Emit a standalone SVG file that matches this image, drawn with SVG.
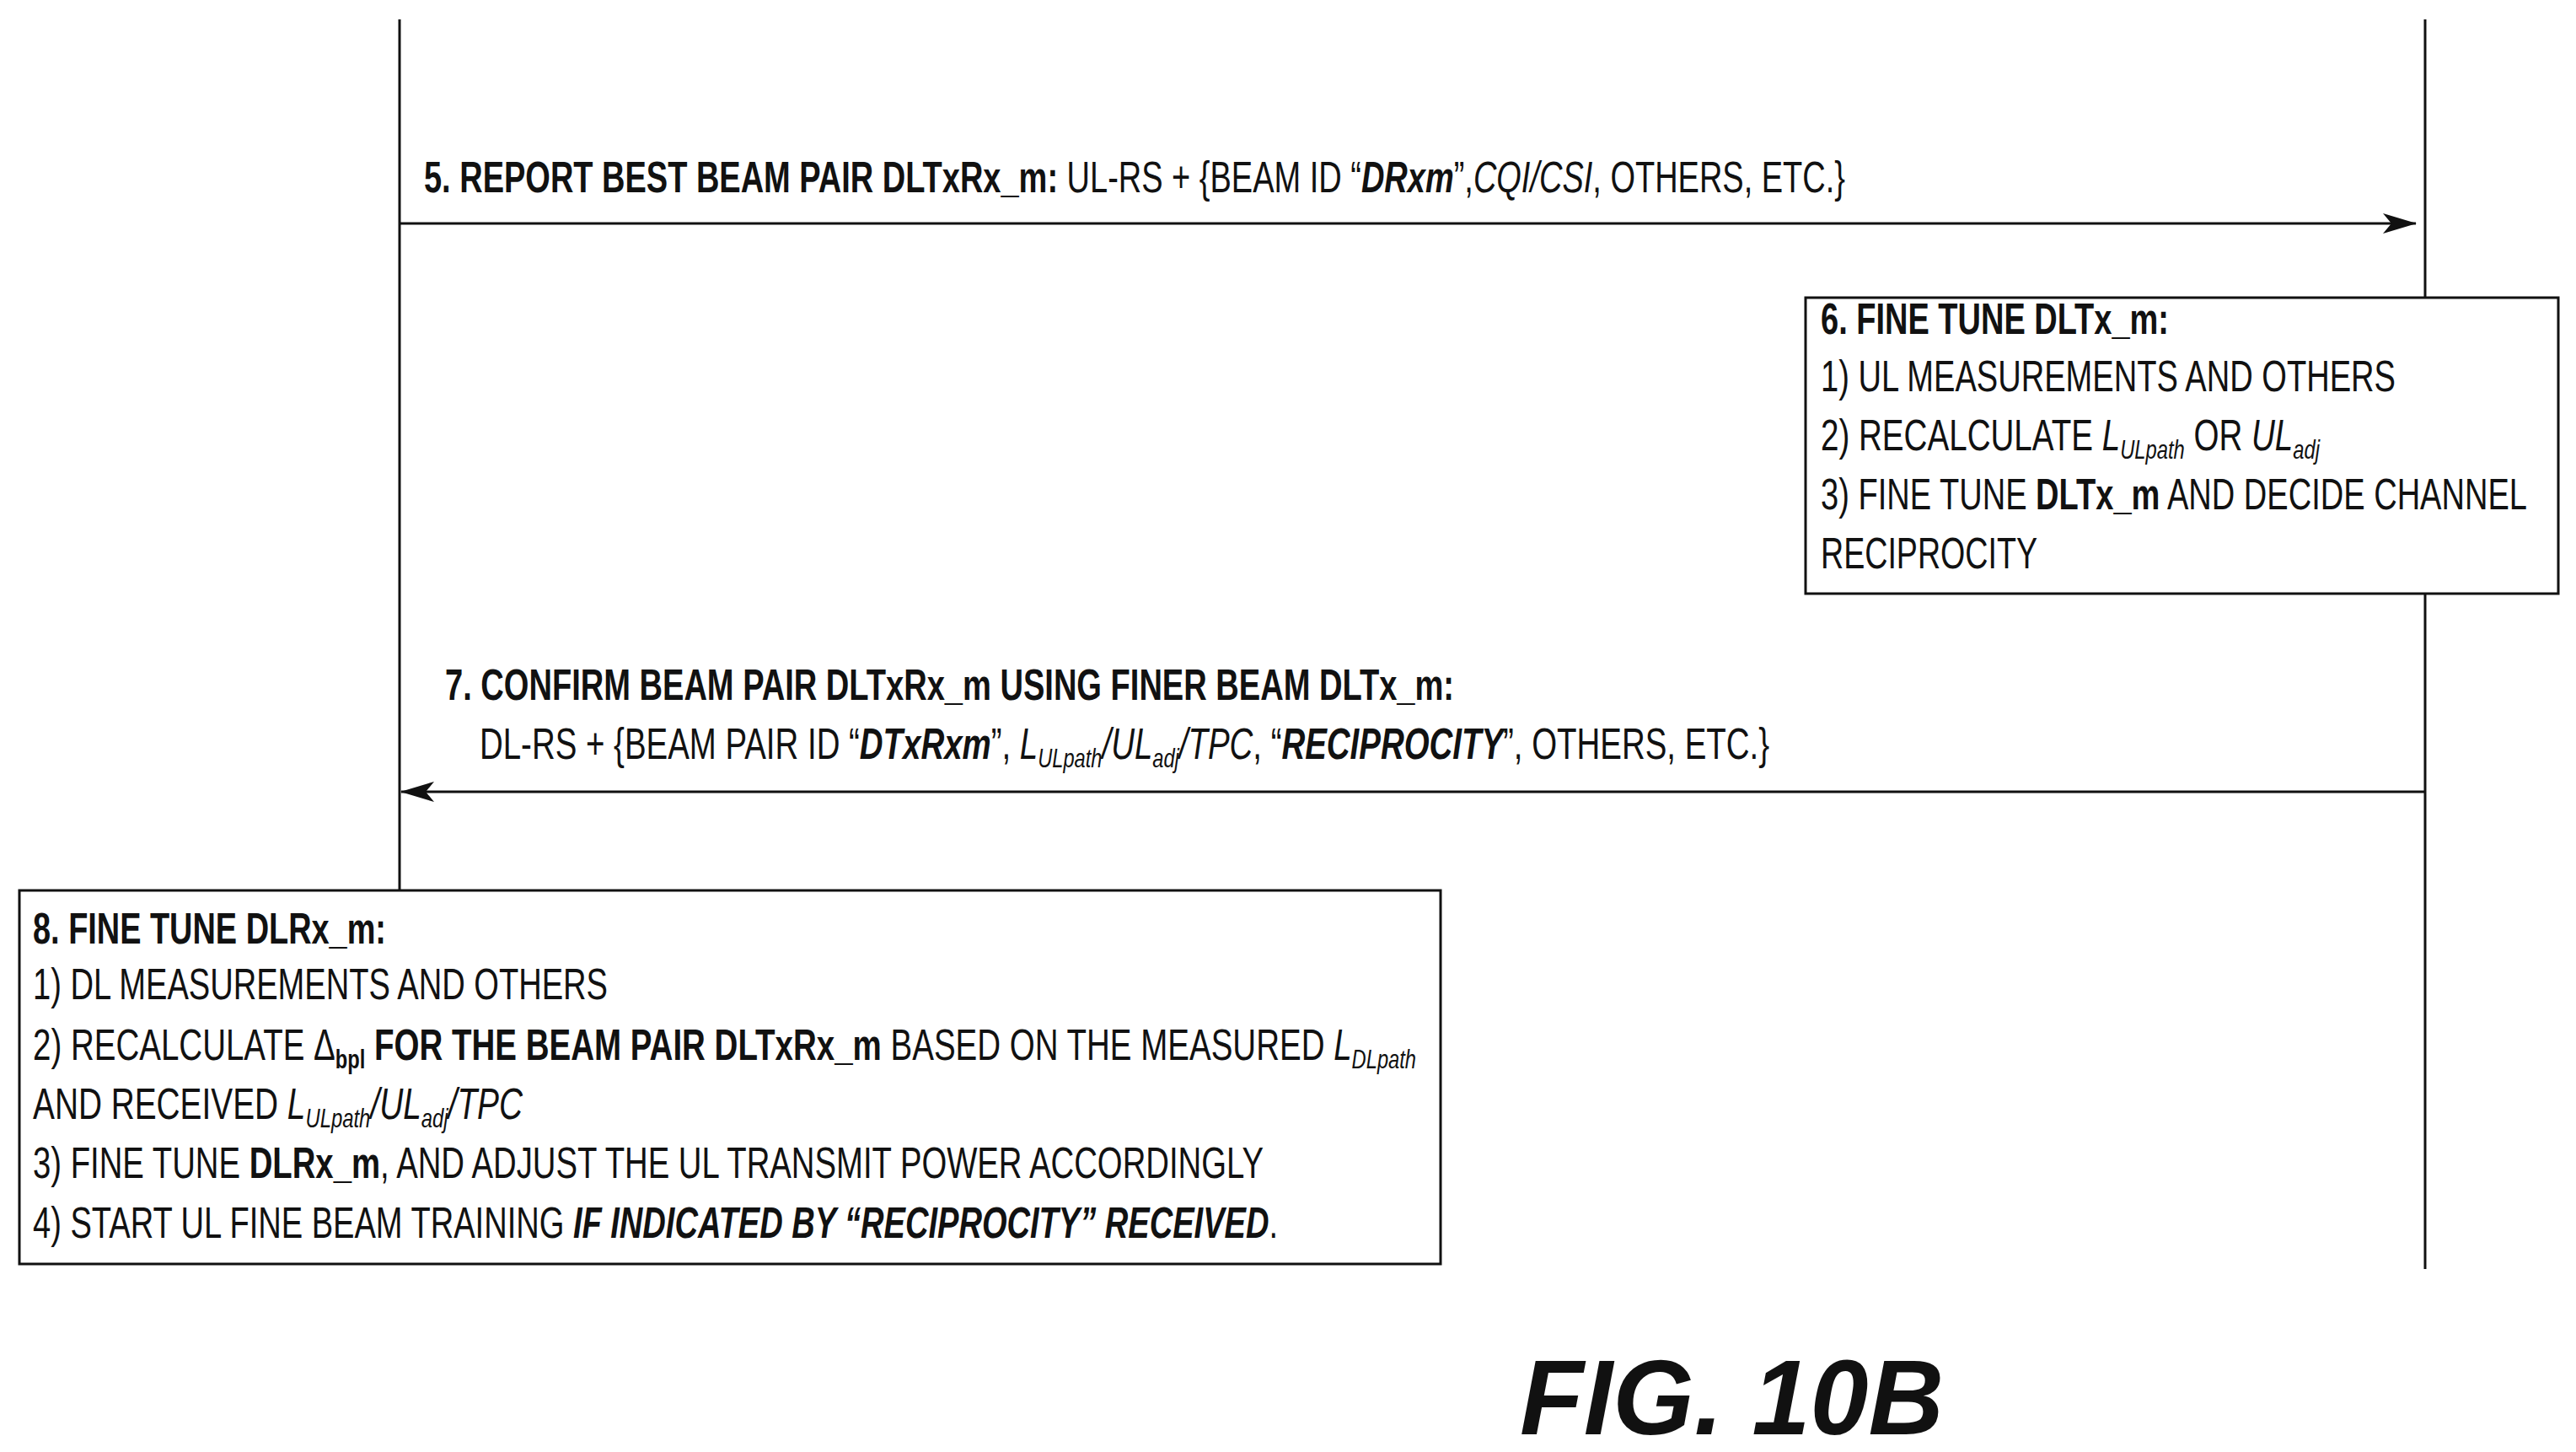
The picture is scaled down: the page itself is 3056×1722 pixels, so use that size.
<svg xmlns="http://www.w3.org/2000/svg" width="3056" height="1722" viewBox="0 0 3056 1722">
<style>
text{font-family:"Liberation Sans",Arial,sans-serif;font-size:52px;fill:#111}
.b{font-weight:bold}.i{font-style:italic}
.s{font-size:32px;font-style:italic}
.ln{stroke:#111;stroke-width:3;fill:none}
.box{fill:#fff;stroke:#111;stroke-width:3}
</style>
<defs><marker id="ah" viewBox="0 0 20 12" refX="19" refY="6" markerWidth="20" markerHeight="12" markerUnits="userSpaceOnUse" orient="auto"><path d="M0,0 L20,6 L0,12 L6,6 z" fill="#111"/></marker>
<marker id="ah2" viewBox="0 0 40 24" refX="39" refY="12" markerWidth="40" markerHeight="24" markerUnits="userSpaceOnUse" orient="auto"><path d="M0,0 L40,12 L0,24 L10,12 z" fill="#111"/></marker></defs>
<g id="lifelines">
<line class="ln" x1="474" y1="23" x2="474" y2="1056"/>
<line class="ln" x1="2877" y1="23" x2="2877" y2="1505"/>
</g>
<g id="connectors">
<line class="ln" x1="474" y1="265" x2="2866" y2="265" marker-end="url(#ah2)"/>
<line class="ln" x1="2877" y1="939" x2="476" y2="939" marker-end="url(#ah2)"/>
</g>
<g id="msg5"><text x="503" y="228" textLength="1686" lengthAdjust="spacingAndGlyphs"><tspan class="b">5. REPORT BEST BEAM PAIR DLTxRx_m:</tspan> UL-RS + {BEAM ID “<tspan class="b i">DRxm</tspan>”,<tspan class="i">CQI/CSI</tspan>, OTHERS, ETC.}</text></g>
<g id="node6">
<rect class="box" x="2142" y="353" width="893" height="351"/>
<text x="2160" y="396" class="b" textLength="413" lengthAdjust="spacingAndGlyphs">6. FINE TUNE DLTx_m:</text>
<text x="2160" y="464" textLength="682" lengthAdjust="spacingAndGlyphs">1) UL MEASUREMENTS AND OTHERS</text>
<text x="2160" y="534" textLength="592" lengthAdjust="spacingAndGlyphs">2) RECALCULATE <tspan class="i">L</tspan><tspan class="s" dy="10">ULpath</tspan><tspan dy="-10"> OR </tspan><tspan class="i">UL</tspan><tspan class="s" dy="10">adj</tspan></text>
<text x="2160" y="604" textLength="838" lengthAdjust="spacingAndGlyphs">3) FINE TUNE <tspan class="b">DLTx_m</tspan> AND DECIDE CHANNEL</text>
<text x="2160" y="674" textLength="257" lengthAdjust="spacingAndGlyphs">RECIPROCITY</text>
</g>
<g id="msg7">
<text x="528" y="830" class="b" textLength="1197" lengthAdjust="spacingAndGlyphs">7. CONFIRM BEAM PAIR DLTxRx_m USING FINER BEAM DLTx_m:</text>
<text x="569" y="900" textLength="1530" lengthAdjust="spacingAndGlyphs">DL-RS + {BEAM PAIR ID “<tspan class="b i">DTxRxm</tspan>”,  <tspan class="i">L</tspan><tspan class="s" dy="10">ULpath</tspan><tspan class="i" dy="-10">/UL</tspan><tspan class="s" dy="10">adj</tspan><tspan class="i" dy="-10">/TPC</tspan>, “<tspan class="b i">RECIPROCITY</tspan>”, OTHERS, ETC.}</text>
</g>
<g id="node8">
<rect class="box" x="23" y="1056" width="1686" height="443"/>
<text x="39" y="1119" class="b" textLength="419" lengthAdjust="spacingAndGlyphs">8. FINE TUNE DLRx_m:</text>
<text x="39" y="1185" textLength="682" lengthAdjust="spacingAndGlyphs">1) DL MEASUREMENTS AND OTHERS</text>
<text x="39" y="1257" textLength="1641" lengthAdjust="spacingAndGlyphs">2) RECALCULATE  Δ<tspan class="s" dy="10" style="font-style:normal;font-weight:bold">bpl</tspan><tspan class="b" dy="-10"> FOR THE BEAM PAIR DLTxRx_m</tspan> BASED ON THE MEASURED <tspan class="i">L</tspan><tspan class="s" dy="10">DLpath</tspan></text>
<text x="39" y="1327" textLength="581" lengthAdjust="spacingAndGlyphs">AND RECEIVED <tspan class="i">L</tspan><tspan class="s" dy="10">ULpath</tspan><tspan class="i" dy="-10">/UL</tspan><tspan class="s" dy="10">adj</tspan><tspan class="i" dy="-10">/TPC</tspan></text>
<text x="39" y="1397" textLength="1460" lengthAdjust="spacingAndGlyphs">3) FINE TUNE <tspan class="b">DLRx_m</tspan>, AND ADJUST THE UL TRANSMIT POWER ACCORDINGLY</text>
<text x="39" y="1468" textLength="1477" lengthAdjust="spacingAndGlyphs">4) START UL FINE BEAM TRAINING <tspan class="b i">IF INDICATED BY “RECIPROCITY” RECEIVED</tspan>.</text>
</g>
<text x="1803" y="1701" class="b i" style="font-size:126px" textLength="503" lengthAdjust="spacingAndGlyphs">FIG. 10B</text>
</svg>
